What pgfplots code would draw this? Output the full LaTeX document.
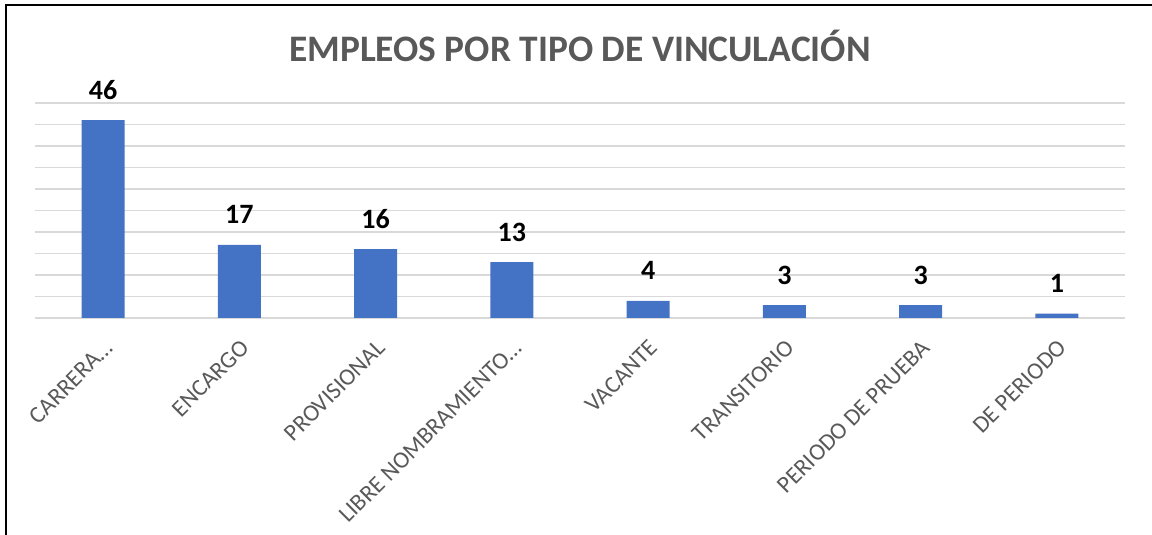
\documentclass[border=0pt]{standalone}
\usepackage{pgfplots}
\pgfplotsset{compat=1.18}
\usepackage{fontspec}
\setmainfont{Carlito}
\definecolor{barblue}{HTML}{4472C4}
\definecolor{txtgray}{HTML}{595959}
\definecolor{gridgray}{HTML}{D9D9D9}
\begin{document}
\begin{tikzpicture}
\path[use as bounding box] (-17.5pt,-108.5pt) rectangle (558.5pt,159pt);
\draw[black, line width=1pt] (-14.5pt,-108.5pt) -- (-14.5pt,156.5pt) -- (558.5pt,156.5pt);
\node[font=\bfseries\fontsize{18.7}{20}\selectfont, text=txtgray, anchor=base] at (272.5pt,128pt) {EMPLEOS POR TIPO DE VINCULACIÓN};
\begin{axis}[
  at={(0pt,0pt)}, anchor=south west,
  scale only axis, width=545pt, height=107.5pt,
  xmin=-0.5, xmax=7.5, ymin=0, ymax=50,
  ytick={0,5,...,50}, yticklabels={},
  ymajorgrids, grid style={gridgray, line width=0.8pt},
  axis line style={draw=none},
  major tick length=0pt,
  xtick={0,...,7},
  xticklabels={CARRERA…, ENCARGO, PROVISIONAL, LIBRE NOMBRAMIENTO…, VACANTE, TRANSITORIO, PERIODO DE PRUEBA, DE PERIODO},
  xticklabel style={rotate=45, anchor=north east, inner sep=0pt, text=txtgray, font=\fontsize{11.9}{13}\selectfont},
  xticklabel shift=10pt,
  ybar, bar width=21.5pt,
  nodes near coords,
  /pgf/number format/assume math mode=true,
  nodes near coords style={anchor=base, inner sep=0pt, yshift=10.5pt, text=black, font=\bfseries\fontsize{14}{16}\selectfont},
  clip=false,
]
\addplot[fill=barblue, draw=none] coordinates {(0,46) (1,17) (2,16) (3,13) (4,4) (5,3) (6,3) (7,1)};
\end{axis}
\end{tikzpicture}
\end{document}
